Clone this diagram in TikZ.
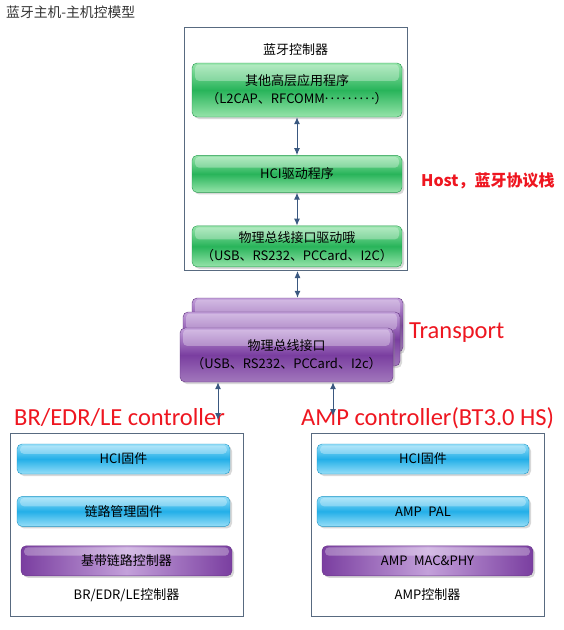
\documentclass[tikz,border=0pt]{standalone}
\usepackage{fontspec}
\setmainfont{Noto Sans CJK SC}
\newfontfamily\labelfont{Carlito}
\usepackage{tikz}
\usetikzlibrary{positioning, arrows.meta, shadows, calc}
\definecolor{bar-green}{RGB}{40,180,90}
\definecolor{bar-green-light}{RGB}{150,228,170}
\definecolor{bar-blue}{RGB}{35,175,232}
\definecolor{bar-blue-light}{RGB}{150,222,248}
\definecolor{bar-purple}{RGB}{122,62,160}
\definecolor{bar-purple-light}{RGB}{195,160,218}
\definecolor{frame-gray}{RGB}{88,106,128}
\definecolor{link-blue}{RGB}{58,88,128}
\definecolor{label-red}{RGB}{238,22,32}
\tikzset{box-text/.style={inner sep=0, align=center, font=\fontsize{13}{18}\selectfont}}
\tikzset{frame/.style={draw=frame-gray, line width=1pt, fill=white}}
\tikzset{link/.style={{Latex[length=7pt,width=6pt]}-{Latex[length=7pt,width=6pt]}, draw=link-blue, line width=1pt}}
\tikzset{gloss/.style={path picture={
        \fill[white, opacity=0.3, rounded corners=4pt]
            ([xshift=3pt, yshift=-1.5pt]path picture bounding box.north west) rectangle
            ([xshift=-3pt]$(path picture bounding box.north east)!0.33!(path picture bounding box.south east)$);
    }}}
\tikzset{bar/.style={box-text, rounded corners=5pt, gloss,
        drop shadow={shadow xshift=2pt, shadow yshift=-2pt, opacity=0.3}}}
\tikzset{green-bar/.style={bar, minimum width=210pt, draw=bar-green!85!black, line width=0.4pt,
        top color=bar-green-light, bottom color=bar-green-light, middle color=bar-green}}
\tikzset{blue-bar/.style={bar, minimum height=30pt, draw=bar-blue!85!black, line width=0.4pt,
        top color=bar-blue-light, bottom color=bar-blue-light, middle color=bar-blue}}
\tikzset{violet-bar/.style={bar, minimum height=30pt, draw=bar-purple!85!black, line width=0.4pt,
        left color=bar-purple, right color=bar-purple, middle color=bar-purple-light}}
\tikzset{purple-stack/.style={bar, minimum height=54pt, draw=bar-purple!80!black, line width=0.4pt,
        top color=bar-purple-light, bottom color=bar-purple!70!white, middle color=bar-purple}}
\tikzset{red-label/.style={inner sep=0, text=label-red, font=\labelfont\fontsize{24.5}{28}\selectfont}}
\newcommand{\middots}{\raisebox{0.3em}{.\,.\,.\,.\,.\,.\,.\,.\,.}}

\begin{document}
\begin{tikzpicture}[x=1pt, y=-1pt]
    \useasboundingbox (0,0) rectangle (563,630);
    \node[inner sep=0, anchor=west, text=black!80, font=\fontsize{13.8}{16}\selectfont] (title) at (6,12) {蓝牙主机-主机控模型};

    % host side
    \node[frame, minimum width=223pt, minimum height=243pt] (host) at (295.5,149) {};
    \node[box-text, below=16pt of host.north] (host-name) {蓝牙控制器};
    \node[green-bar, minimum height=54pt] (apps) at (297,90) {其他高层应用程序\\（L2CAP、RFCOMM\middots）};
    \node[green-bar, minimum height=37pt, below=38pt of apps] (hci-drv) {HCI驱动程序};
    \node[green-bar, minimum height=41pt, below=33pt of hci-drv] (bus-drv) {物理总线接口驱动哦\\（USB、RS232、PCCard、I2C）};
    \draw[link] (apps) -- (hci-drv);
    \draw[link] (hci-drv) -- (bus-drv);
    \node[inner sep=0, anchor=west, text=label-red, font=\bfseries\fontsize{16}{18}\selectfont] (host-label) at (421,181) {Host，蓝牙协议栈};

    % transport
    \node[purple-stack, minimum width=211pt] (tp-back) at (297.5,325) {};
    \node[purple-stack, minimum width=217pt] (tp-mid) at (291.5,339) {};
    \node[purple-stack, minimum width=213pt] (tp-front) at (286.5,355) {物理总线接口\\（USB、RS232、PCCard、I2c）};
    \draw[link] (host.south -| tp-back.north) -- (tp-back.north);
    \node[red-label, anchor=west] (tp-label) at (409,333) {Transport};

    % controllers
    \node[red-label, anchor=west] (br-label) at (14,418) {BR/EDR/LE controller};
    \node[red-label, anchor=west] (amp-label) at (301,418) {AMP controller(BT3.0 HS)};
    \coordinate (br-end) at (218,420);
    \coordinate (amp-end) at (333,416);
    \draw[link] (tp-front.south -| br-end) -- (br-end);
    \draw[link] (tp-front.south -| amp-end) -- (amp-end);

    \node[frame, minimum width=233pt, minimum height=183pt] (br-box) at (126.5,524.5) {};
    \node[blue-bar, minimum width=213pt] (br-hci) at (123.5,459) {HCI固件};
    \node[blue-bar, minimum width=213pt, below=22pt of br-hci] (br-lmp) {链路管理固件};
    \node[violet-bar, minimum width=211pt, below=19pt of br-lmp, xshift=3pt] (br-lc) {基带链路控制器};
    \node[box-text] (br-name) at (126.5,595) {BR/EDR/LE控制器};

    \node[frame, minimum width=233pt, minimum height=183pt] (amp-box) at (427.5,524.5) {};
    \node[blue-bar, minimum width=212pt] (amp-hci) at (423,459) {HCI固件};
    \node[blue-bar, minimum width=212pt, below=22pt of amp-hci] (amp-pal) {AMP\enspace PAL};
    \node[violet-bar, minimum width=211pt, below=19pt of amp-pal, xshift=4.5pt] (amp-mac) {AMP\enspace MAC\&PHY};
    \node[box-text] (amp-name) at (427.5,595) {AMP控制器};
\end{tikzpicture}
\end{document}
